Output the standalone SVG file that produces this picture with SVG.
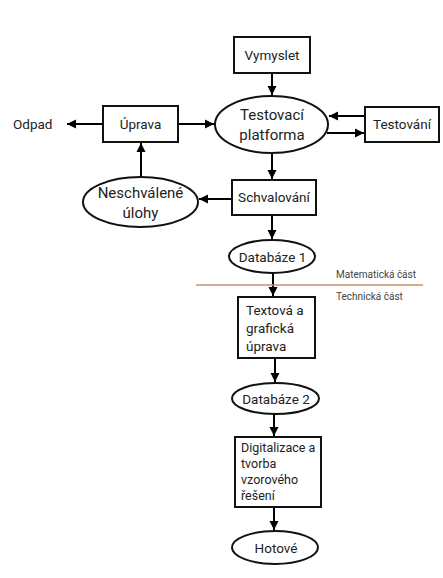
<svg xmlns="http://www.w3.org/2000/svg" width="443" height="578" viewBox="0 0 443 578">
<defs>
<marker id="ah" markerWidth="10" markerHeight="10" refX="9" refY="5" orient="auto" markerUnits="userSpaceOnUse">
<path d="M0,0.5 L9,5 L0,9.5 Z" fill="#000"/>
</marker>
<style>
.n{fill:#fff;stroke:#111;stroke-width:2}
.t{font-family:Roboto,"Liberation Sans",sans-serif;font-size:13.5px;fill:#222}
.e{font-family:Roboto,"Liberation Sans",sans-serif;font-size:15px;fill:#222}
.s{font-family:Roboto,"Liberation Sans",sans-serif;font-size:10px;fill:#444}
.c{stroke:#000;stroke-width:2;fill:none;marker-end:url(#ah)}
</style>
</defs>
<rect width="443" height="578" fill="#fff"/>
<g id="connectors">
<line class="c" x1="272" y1="73" x2="272" y2="95"/>
<line class="c" x1="178" y1="124" x2="214" y2="124"/>
<line class="c" x1="103" y1="124" x2="67" y2="124"/>
<line class="c" x1="365" y1="116" x2="329" y2="116"/>
<line class="c" x1="327" y1="133" x2="364" y2="133"/>
<line class="c" x1="272" y1="153" x2="272" y2="179"/>
<line class="c" x1="232" y1="199" x2="199" y2="199"/>
<line class="c" x1="141" y1="177" x2="141" y2="143"/>
<line class="c" x1="272" y1="215" x2="272" y2="239"/>
<line class="c" x1="273" y1="273" x2="273" y2="296"/>
<line class="c" x1="275" y1="358" x2="275" y2="382"/>
<line class="c" x1="274" y1="414" x2="274" y2="436"/>
<line class="c" x1="274" y1="507" x2="274" y2="530"/>
</g>
<g id="divider">
<line x1="196" y1="285" x2="423" y2="285" stroke="#c8906c" stroke-width="1.5"/>
<text class="s" x="336" y="278">Matematická část</text>
<text class="s" x="336" y="300">Technická část</text>
</g>
<g id="vymyslet"><rect class="n" x="234" y="37" width="76" height="36"/><text class="t" x="272" y="60" text-anchor="middle">Vymyslet</text></g>
<g id="testovaci"><ellipse class="n" cx="271.5" cy="124.5" rx="56.5" ry="28.5"/><text class="e" x="272" y="120" text-anchor="middle">Testovací</text><text class="e" x="272" y="140" text-anchor="middle">platforma</text></g>
<g id="uprava"><rect class="n" x="103" y="106" width="75" height="36"/><text class="t" x="140.5" y="129" text-anchor="middle">Úprava</text></g>
<g id="odpad"><text class="t" x="13" y="129">Odpad</text></g>
<g id="testovani"><rect class="n" x="365" y="107" width="74" height="35"/><text class="t" x="402" y="129" text-anchor="middle">Testování</text></g>
<g id="neschvalene"><ellipse class="n" cx="140.5" cy="202" rx="57.5" ry="25"/><text class="e" x="140.5" y="198" text-anchor="middle">Neschválené</text><text class="e" x="140.5" y="218" text-anchor="middle">úlohy</text></g>
<g id="schvalovani"><rect class="n" x="232" y="180" width="84" height="35"/><text class="t" x="274" y="202" text-anchor="middle">Schvalování</text></g>
<g id="databaze1"><ellipse class="n" cx="272" cy="256.5" rx="43" ry="16.5"/><text class="t" x="272.5" y="261.5" text-anchor="middle">Databáze 1</text></g>
<g id="textova"><rect class="n" x="238" y="297" width="77" height="61"/><text class="t" x="246" y="315">Textová a</text><text class="t" x="246" y="333">grafická</text><text class="t" x="246" y="351">úprava</text></g>
<g id="databaze2"><ellipse class="n" cx="275.5" cy="398.5" rx="43.5" ry="15.5"/><text class="t" x="276" y="403.5" text-anchor="middle">Databáze 2</text></g>
<g id="digitalizace"><rect class="n" x="235" y="437" width="86" height="70"/><text class="t" x="241" y="452" style="font-size:12.5px">Digitalizace a</text><text class="t" x="241" y="468" style="font-size:12.5px">tvorba</text><text class="t" x="241" y="484" style="font-size:12.5px">vzorového</text><text class="t" x="241" y="500" style="font-size:12.5px">řešení</text></g>
<g id="hotove"><ellipse class="n" cx="275" cy="547.5" rx="43" ry="16.5"/><text class="t" x="276" y="552.5" text-anchor="middle">Hotové</text></g>
</svg>
